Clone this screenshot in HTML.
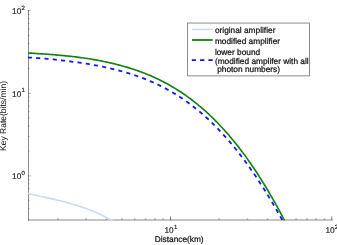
<!DOCTYPE html><html><head><meta charset="utf-8"><style>html,body{margin:0;padding:0;background:#fff;overflow:hidden}body{width:337px;height:245px;position:relative;font-family:"Liberation Sans",sans-serif}</style></head><body><svg width="337" height="245" viewBox="0 0 337 245" style="position:absolute;left:0;top:0;will-change:transform;opacity:0.999">
<rect width="337" height="245" fill="#fff"/>
<defs><clipPath id="c"><rect x="27.5" y="9" width="305.5" height="211.3"/></clipPath><clipPath id="c2"><rect x="27.5" y="9" width="305.5" height="212"/></clipPath></defs>
<rect x="28" y="10.2" width="1" height="210.3" fill="#8e8e8e"/>
<rect x="28" y="219" width="304.6" height="2" fill="#c4c4c4"/>
<rect x="28" y="219" width="1" height="1.6" fill="#6a6a6a"/>
<rect x="57.01" y="218" width="1.5" height="1" fill="#cdcdcd"/><rect x="57.01" y="219" width="1.5" height="1" fill="#9a9a9a"/>
<rect x="85.41" y="218" width="1.5" height="1" fill="#cdcdcd"/><rect x="85.41" y="219" width="1.5" height="1" fill="#9a9a9a"/>
<rect x="105.56" y="218" width="1.5" height="1" fill="#cdcdcd"/><rect x="105.56" y="219" width="1.5" height="1" fill="#9a9a9a"/>
<rect x="121.19" y="218" width="1.5" height="1" fill="#cdcdcd"/><rect x="121.19" y="219" width="1.5" height="1" fill="#9a9a9a"/>
<rect x="133.97" y="218" width="1.5" height="1" fill="#cdcdcd"/><rect x="133.97" y="219" width="1.5" height="1" fill="#9a9a9a"/>
<rect x="144.76" y="218" width="1.5" height="1" fill="#cdcdcd"/><rect x="144.76" y="219" width="1.5" height="1" fill="#9a9a9a"/>
<rect x="154.12" y="218" width="1.5" height="1" fill="#cdcdcd"/><rect x="154.12" y="219" width="1.5" height="1" fill="#9a9a9a"/>
<rect x="162.37" y="218" width="1.5" height="1" fill="#cdcdcd"/><rect x="162.37" y="219" width="1.5" height="1" fill="#9a9a9a"/>
<rect x="170.00" y="216.5" width="1" height="2.5" fill="#7c7c7c"/><rect x="170.00" y="219" width="1" height="1" fill="#555"/>
<rect x="218.31" y="218" width="1.5" height="1" fill="#cdcdcd"/><rect x="218.31" y="219" width="1.5" height="1" fill="#9a9a9a"/>
<rect x="246.71" y="218" width="1.5" height="1" fill="#cdcdcd"/><rect x="246.71" y="219" width="1.5" height="1" fill="#9a9a9a"/>
<rect x="266.86" y="218" width="1.5" height="1" fill="#cdcdcd"/><rect x="266.86" y="219" width="1.5" height="1" fill="#9a9a9a"/>
<rect x="282.49" y="218" width="1.5" height="1" fill="#cdcdcd"/><rect x="282.49" y="219" width="1.5" height="1" fill="#9a9a9a"/>
<rect x="295.27" y="218" width="1.5" height="1" fill="#cdcdcd"/><rect x="295.27" y="219" width="1.5" height="1" fill="#9a9a9a"/>
<rect x="306.06" y="218" width="1.5" height="1" fill="#cdcdcd"/><rect x="306.06" y="219" width="1.5" height="1" fill="#9a9a9a"/>
<rect x="315.42" y="218" width="1.5" height="1" fill="#cdcdcd"/><rect x="315.42" y="219" width="1.5" height="1" fill="#9a9a9a"/>
<rect x="323.67" y="218" width="1.5" height="1" fill="#cdcdcd"/><rect x="323.67" y="219" width="1.5" height="1" fill="#9a9a9a"/>
<rect x="331.30" y="216.5" width="1" height="2.5" fill="#7c7c7c"/><rect x="331.30" y="219" width="1" height="1" fill="#555"/>
<rect x="28" y="208.22" width="1" height="1.1" fill="#666"/><rect x="29" y="208.22" width="1" height="1.1" fill="#dcdcdc"/>
<rect x="28" y="200.22" width="1" height="1.1" fill="#666"/><rect x="29" y="200.22" width="1" height="1.1" fill="#dcdcdc"/>
<rect x="28" y="193.67" width="1" height="1.1" fill="#666"/><rect x="29" y="193.67" width="1" height="1.1" fill="#dcdcdc"/>
<rect x="28" y="188.14" width="1" height="1.1" fill="#666"/><rect x="29" y="188.14" width="1" height="1.1" fill="#dcdcdc"/>
<rect x="28" y="183.35" width="1" height="1.1" fill="#666"/><rect x="29" y="183.35" width="1" height="1.1" fill="#dcdcdc"/>
<rect x="28" y="179.13" width="1" height="1.1" fill="#666"/><rect x="29" y="179.13" width="1" height="1.1" fill="#dcdcdc"/>
<rect x="28" y="175.30" width="1" height="1.2" fill="#606060"/><rect x="29" y="175.30" width="2" height="1.2" fill="#c6c6c6"/>
<rect x="28" y="150.48" width="1" height="1.1" fill="#666"/><rect x="29" y="150.48" width="1" height="1.1" fill="#dcdcdc"/>
<rect x="28" y="135.94" width="1" height="1.1" fill="#666"/><rect x="29" y="135.94" width="1" height="1.1" fill="#dcdcdc"/>
<rect x="28" y="125.62" width="1" height="1.1" fill="#666"/><rect x="29" y="125.62" width="1" height="1.1" fill="#dcdcdc"/>
<rect x="28" y="117.62" width="1" height="1.1" fill="#666"/><rect x="29" y="117.62" width="1" height="1.1" fill="#dcdcdc"/>
<rect x="28" y="111.07" width="1" height="1.1" fill="#666"/><rect x="29" y="111.07" width="1" height="1.1" fill="#dcdcdc"/>
<rect x="28" y="105.54" width="1" height="1.1" fill="#666"/><rect x="29" y="105.54" width="1" height="1.1" fill="#dcdcdc"/>
<rect x="28" y="100.75" width="1" height="1.1" fill="#666"/><rect x="29" y="100.75" width="1" height="1.1" fill="#dcdcdc"/>
<rect x="28" y="96.53" width="1" height="1.1" fill="#666"/><rect x="29" y="96.53" width="1" height="1.1" fill="#dcdcdc"/>
<rect x="28" y="92.70" width="1" height="1.2" fill="#606060"/><rect x="29" y="92.70" width="2" height="1.2" fill="#c6c6c6"/>
<rect x="28" y="67.88" width="1" height="1.1" fill="#666"/><rect x="29" y="67.88" width="1" height="1.1" fill="#dcdcdc"/>
<rect x="28" y="53.34" width="1" height="1.1" fill="#666"/><rect x="29" y="53.34" width="1" height="1.1" fill="#dcdcdc"/>
<rect x="28" y="43.02" width="1" height="1.1" fill="#666"/><rect x="29" y="43.02" width="1" height="1.1" fill="#dcdcdc"/>
<rect x="28" y="35.02" width="1" height="1.1" fill="#666"/><rect x="29" y="35.02" width="1" height="1.1" fill="#dcdcdc"/>
<rect x="28" y="28.47" width="1" height="1.1" fill="#666"/><rect x="29" y="28.47" width="1" height="1.1" fill="#dcdcdc"/>
<rect x="28" y="22.94" width="1" height="1.1" fill="#666"/><rect x="29" y="22.94" width="1" height="1.1" fill="#dcdcdc"/>
<rect x="28" y="18.15" width="1" height="1.1" fill="#666"/><rect x="29" y="18.15" width="1" height="1.1" fill="#dcdcdc"/>
<rect x="28" y="13.93" width="1" height="1.1" fill="#666"/><rect x="29" y="13.93" width="1" height="1.1" fill="#dcdcdc"/>
<rect x="28" y="10.10" width="1" height="1.2" fill="#606060"/><rect x="29" y="10.10" width="2" height="1.2" fill="#c6c6c6"/>
<g fill="none">
<path d="M27.8,193.55 L28.9,193.79 L30.0,194.03 L31.1,194.27 L32.3,194.51 L33.4,194.75 L34.5,194.99 L35.6,195.23 L36.7,195.47 L37.8,195.71 L39.0,195.94 L40.1,196.18 L41.2,196.42 L42.3,196.66 L43.4,196.90 L44.5,197.15 L45.7,197.39 L46.8,197.64 L47.9,197.88 L49.0,198.13 L50.1,198.38 L51.2,198.63 L52.4,198.89 L53.5,199.15 L54.6,199.41 L55.7,199.67 L56.8,199.94 L57.9,200.21 L59.1,200.48 L60.2,200.75 L61.3,201.03 L62.4,201.32 L63.5,201.61 L64.6,201.90 L65.8,202.19 L66.9,202.49 L68.0,202.80 L69.1,203.11 L70.2,203.42 L71.3,203.75 L72.5,204.07 L73.6,204.40 L74.7,204.74 L75.8,205.08 L76.9,205.43 L78.0,205.79 L79.2,206.15 L80.3,206.52 L81.4,206.89 L82.5,207.27 L83.6,207.66 L84.7,208.06 L85.9,208.46 L87.0,208.87 L88.1,209.29 L89.2,209.72 L90.3,210.15 L91.4,210.59 L92.6,211.04 L93.7,211.50 L94.8,211.97 L95.9,212.45 L97.0,212.94 L98.1,213.43 L99.3,213.94 L100.4,214.45 L101.5,214.98 L102.6,215.51 L103.7,216.06 L104.8,216.61 L106.0,217.18 L107.1,217.75 L108.2,218.34 L109.3,218.94 L110.4,219.55 L111.5,220.17 L112.7,220.80 L113.8,221.44 L114.9,222.09 L116.0,222.76" stroke="#cbdcf2" stroke-width="1.6" clip-path="url(#c2)"/>
<g clip-path="url(#c)" fill="none">
<path d="M27.8,57.47 L29.4,57.56 L31.0,57.64 L32.7,57.74 L34.3,57.84 L35.9,57.95 L37.5,58.06 L39.1,58.18 L40.7,58.30 L42.4,58.43 L44.0,58.57 L45.6,58.71 L47.2,58.85 L48.8,59.00 L50.4,59.15 L52.1,59.31 L53.7,59.47 L55.3,59.64 L56.9,59.81 L58.5,59.99 L60.2,60.17 L61.8,60.35 L63.4,60.54 L65.0,60.73 L66.6,60.93 L68.2,61.14 L69.9,61.34 L71.5,61.56 L73.1,61.77 L74.7,61.99 L76.3,62.22 L77.9,62.45 L79.6,62.69 L81.2,62.93 L82.8,63.18 L84.4,63.43 L86.0,63.69 L87.7,63.96 L89.3,64.23 L90.9,64.51 L92.5,64.79 L94.1,65.08 L95.7,65.38 L97.4,65.68 L99.0,65.99 L100.6,66.31 L102.2,66.64 L103.8,66.97 L105.4,67.31 L107.1,67.67 L108.7,68.03 L110.3,68.39 L111.9,68.77 L113.5,69.16 L115.2,69.56 L116.8,69.96 L118.4,70.38 L120.0,70.81 L121.6,71.25 L123.2,71.70 L124.9,72.16 L126.5,72.63 L128.1,73.11 L129.7,73.61 L131.3,74.12 L132.9,74.64 L134.6,75.18 L136.2,75.73 L137.8,76.29 L139.4,76.87 L141.0,77.46 L142.7,78.07 L144.3,78.69 L145.9,79.33 L147.5,79.99 L149.1,80.66 L150.7,81.35 L152.4,82.05 L154.0,82.77 L155.6,83.51 L157.2,84.27 L158.8,85.04 L160.4,85.84 L162.1,86.65 L163.7,87.48 L165.3,88.34 L166.9,89.21 L168.5,90.10 L170.1,91.01 L171.8,91.95 L173.4,92.90 L175.0,93.88 L176.6,94.88 L178.2,95.90 L179.9,96.95 L181.5,98.01 L183.1,99.10 L184.7,100.22 L186.3,101.36 L187.9,102.52 L189.6,103.71 L191.2,104.92 L192.8,106.16 L194.4,107.42 L196.0,108.71 L197.6,110.02 L199.3,111.36 L200.9,112.73 L202.5,114.12 L204.1,115.55 L205.7,116.99 L207.4,118.47 L209.0,119.97 L210.6,121.51 L212.2,123.07 L213.8,124.66 L215.4,126.28 L217.1,127.92 L218.7,129.60 L220.3,131.31 L221.9,133.04 L223.5,134.81 L225.1,136.60 L226.8,138.43 L228.4,140.28 L230.0,142.17 L231.6,144.09 L233.2,146.04 L234.9,148.02 L236.5,150.03 L238.1,152.07 L239.7,154.14 L241.3,156.25 L242.9,158.38 L244.6,160.55 L246.2,162.75 L247.8,164.98 L249.4,167.24 L251.0,169.53 L252.6,171.86 L254.3,174.22 L255.9,176.61 L257.5,179.03 L259.1,181.48 L260.7,183.97 L262.4,186.48 L264.0,189.03 L265.6,191.61 L267.2,194.22 L268.8,196.87 L270.4,199.54 L272.1,202.24 L273.7,204.98 L275.3,207.75 L276.9,210.54 L278.5,213.37 L280.1,216.23 L281.8,219.12 L283.4,222.04 L285.0,224.99" stroke="#1414ff" stroke-width="1.8" stroke-dasharray="4.15 4.176"/>
<path d="M27.80,52.96 L29.45,53.06 L31.10,53.16 L32.75,53.26 L34.40,53.37 L36.05,53.48 L37.69,53.59 L39.34,53.70 L40.99,53.81 L42.64,53.92 L44.29,54.04 L45.94,54.16 L47.59,54.28 L49.24,54.40 L50.89,54.53 L52.54,54.66 L54.18,54.79 L55.83,54.93 L57.48,55.07 L59.13,55.21 L60.78,55.36 L62.43,55.51 L64.08,55.67 L65.73,55.83 L67.38,56.00 L69.02,56.17 L70.67,56.35 L72.32,56.54 L73.97,56.73 L75.62,56.93 L77.26,57.14 L78.91,57.35 L80.56,57.57 L82.20,57.80 L83.85,58.03 L85.50,58.27 L87.14,58.52 L88.79,58.77 L90.43,59.03 L92.08,59.31 L93.73,59.58 L95.37,59.87 L97.02,60.17 L98.66,60.47 L100.30,60.78 L101.95,61.11 L103.59,61.44 L105.24,61.78 L106.88,62.13 L108.52,62.49 L110.17,62.86 L111.81,63.24 L113.45,63.63 L115.09,64.03 L116.74,64.44 L118.38,64.87 L120.02,65.30 L121.66,65.75 L123.30,66.20 L124.95,66.67 L126.59,67.15 L128.23,67.65 L129.87,68.15 L131.52,68.67 L133.16,69.21 L134.80,69.75 L136.44,70.31 L138.09,70.88 L139.73,71.47 L141.38,72.07 L143.02,72.69 L144.66,73.33 L146.31,73.98 L147.95,74.65 L149.60,75.33 L151.24,76.03 L152.88,76.76 L154.53,77.49 L156.17,78.25 L157.82,79.03 L159.46,79.83 L161.10,80.64 L162.75,81.48 L164.39,82.33 L166.04,83.21 L167.68,84.10 L169.32,85.02 L170.97,85.96 L172.61,86.92 L174.26,87.90 L175.90,88.91 L177.54,89.94 L179.19,90.99 L180.83,92.06 L182.48,93.16 L184.12,94.28 L185.76,95.43 L187.41,96.60 L189.05,97.80 L190.70,99.02 L192.34,100.27 L193.99,101.54 L195.63,102.84 L197.27,104.16 L198.92,105.52 L200.56,106.90 L202.21,108.30 L203.85,109.74 L205.50,111.20 L207.14,112.69 L208.79,114.22 L210.43,115.77 L212.08,117.34 L213.72,118.95 L215.37,120.59 L217.01,122.26 L218.66,123.96 L220.30,125.70 L221.95,127.46 L223.59,129.25 L225.24,131.08 L226.88,132.94 L228.53,134.83 L230.18,136.76 L231.82,138.71 L233.47,140.71 L235.11,142.73 L236.76,144.79 L238.41,146.88 L240.05,149.01 L241.70,151.18 L243.34,153.37 L244.99,155.61 L246.64,157.88 L248.28,160.18 L249.93,162.53 L251.58,164.91 L253.22,167.32 L254.87,169.78 L256.52,172.27 L258.16,174.80 L259.81,177.36 L261.46,179.97 L263.10,182.61 L264.75,185.29 L266.40,188.02 L268.05,190.78 L269.69,193.58 L271.34,196.42 L272.99,199.30 L274.63,202.22 L276.28,205.18 L277.93,208.19 L279.58,211.23 L281.22,214.31 L282.87,217.44 L284.52,220.61 L286.17,223.82 L287.81,227.07 L289.46,230.37" stroke="#148214" stroke-width="1.65"/>
</g></g>
<rect x="187.6" y="23.05" width="121.9" height="52.85" fill="#fff" stroke="#777" stroke-width="0.85"/>
<line x1="192.0" y1="29.4" x2="212.7" y2="29.4" stroke="#cbdcf2" stroke-width="1.6"/>
<line x1="192.0" y1="40.0" x2="212.7" y2="40.0" stroke="#148214" stroke-width="1.8"/>
<line x1="191.8" y1="60.1" x2="212.7" y2="60.1" stroke="#1414ff" stroke-width="1.8" stroke-dasharray="4.3 4.0"/>
<text x="214.9" y="33.3" font-size="8.32" font-family="Liberation Sans, sans-serif" fill="#111" stroke="#111" stroke-width="0.22" text-rendering="geometricPrecision">original amplifier</text>
<text x="214.9" y="43.7" font-size="8.32" font-family="Liberation Sans, sans-serif" fill="#111" stroke="#111" stroke-width="0.22" text-rendering="geometricPrecision">modified amplifier</text>
<text x="214.9" y="55.0" font-size="8.32" font-family="Liberation Sans, sans-serif" fill="#111" stroke="#111" stroke-width="0.22" text-rendering="geometricPrecision">lower bound</text>
<text x="214.9" y="63.6" font-size="8.32" font-family="Liberation Sans, sans-serif" fill="#111" stroke="#111" stroke-width="0.22" text-rendering="geometricPrecision">(modified amplifer with all</text>
<text x="217.2" y="72.3" font-size="8.32" font-family="Liberation Sans, sans-serif" fill="#111" stroke="#111" stroke-width="0.22" text-rendering="geometricPrecision">photon numbers)</text>
<text x="179.2" y="242.0" font-size="8.3" text-anchor="middle" font-family="Liberation Sans, sans-serif" fill="#111" stroke="#111" stroke-width="0.22" text-rendering="geometricPrecision">Distance(km)</text>
<text transform="translate(6.4,116.0) rotate(-90)" font-size="8.5" text-anchor="middle" font-family="Liberation Sans, sans-serif" fill="#1a1a1a" stroke="#1a1a1a" stroke-width="0.05" text-rendering="geometricPrecision">Key Rate(bits/min)</text>
<text x="12.1" y="14.0" font-size="8.3" font-family="Liberation Sans, sans-serif" fill="#1a1a1a" stroke="#1a1a1a" stroke-width="0.16" text-rendering="geometricPrecision">10</text><text x="21.5" y="9.7" font-size="6" font-family="Liberation Sans, sans-serif" fill="#1a1a1a" stroke="#1a1a1a" stroke-width="0.16" text-rendering="geometricPrecision">2</text>
<text x="12.1" y="96.6" font-size="8.3" font-family="Liberation Sans, sans-serif" fill="#1a1a1a" stroke="#1a1a1a" stroke-width="0.16" text-rendering="geometricPrecision">10</text><text x="21.5" y="92.3" font-size="6" font-family="Liberation Sans, sans-serif" fill="#1a1a1a" stroke="#1a1a1a" stroke-width="0.16" text-rendering="geometricPrecision">1</text>
<text x="12.1" y="179.2" font-size="8.3" font-family="Liberation Sans, sans-serif" fill="#1a1a1a" stroke="#1a1a1a" stroke-width="0.16" text-rendering="geometricPrecision">10</text><text x="21.5" y="174.89999999999998" font-size="6" font-family="Liberation Sans, sans-serif" fill="#1a1a1a" stroke="#1a1a1a" stroke-width="0.16" text-rendering="geometricPrecision">0</text>
<text x="164.5" y="233.4" font-size="8.3" font-family="Liberation Sans, sans-serif" fill="#1a1a1a" stroke="#1a1a1a" stroke-width="0.16" text-rendering="geometricPrecision">10</text><text x="173.9" y="229.1" font-size="6" font-family="Liberation Sans, sans-serif" fill="#1a1a1a" stroke="#1a1a1a" stroke-width="0.16" text-rendering="geometricPrecision">1</text>
<text x="325.4" y="233.4" font-size="8.3" font-family="Liberation Sans, sans-serif" fill="#1a1a1a" stroke="#1a1a1a" stroke-width="0.16" text-rendering="geometricPrecision">10</text><text x="334.79999999999995" y="229.1" font-size="6" font-family="Liberation Sans, sans-serif" fill="#1a1a1a" stroke="#1a1a1a" stroke-width="0.16" text-rendering="geometricPrecision">2</text>
</svg></body></html>
